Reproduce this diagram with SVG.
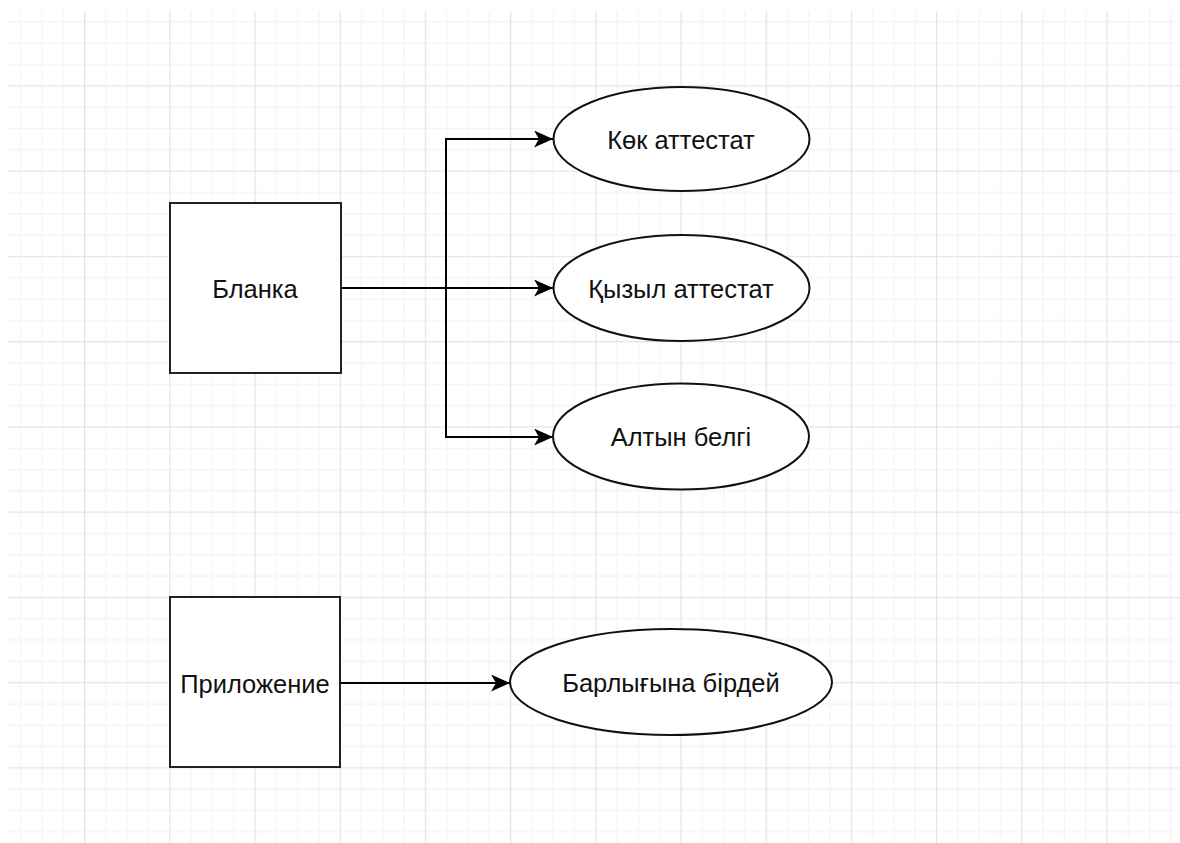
<svg xmlns="http://www.w3.org/2000/svg" width="1180" height="843" viewBox="0 0 1180 843">
<defs>
<pattern id="grid" patternUnits="userSpaceOnUse" x="-1.2" y="0.05" width="85.2" height="85.25">
<rect x="21.3" y="0" width="1.2" height="85.25" fill="#f3f3f3"/>
<rect x="42.6" y="0" width="1.2" height="85.25" fill="#f3f3f3"/>
<rect x="63.9" y="0" width="1.2" height="85.25" fill="#f3f3f3"/>
<rect x="0" y="21.3" width="85.2" height="1.2" fill="#f3f3f3"/>
<rect x="0" y="42.6" width="85.2" height="1.2" fill="#f3f3f3"/>
<rect x="0" y="63.9" width="85.2" height="1.2" fill="#f3f3f3"/>
<rect x="0" y="0" width="1.3" height="85.25" fill="#e4e4e4"/>
<rect x="0" y="0" width="85.2" height="1.3" fill="#e4e4e4"/>
</pattern>
<marker id="arr" viewBox="0 0 19 17" refX="19" refY="8.5" markerWidth="19" markerHeight="17" markerUnits="userSpaceOnUse" orient="auto">
<path d="M0,0 L19,8.5 L0,17 L5,8.5 Z" fill="#000"/>
</marker>
</defs>
<style>
.box{fill:#fff;stroke:#222;stroke-width:2}
.ell{fill:#fff;stroke:#111;stroke-width:2}
.lbl{font-family:"Liberation Sans",Arial,sans-serif;font-size:25.5px;fill:#111;text-anchor:middle}
.edge{fill:none;stroke:#000;stroke-width:2}
</style>
<rect x="0" y="0" width="1180" height="843" fill="#fff"/>
<rect x="7" y="11" width="1173" height="832" fill="url(#grid)"/>
<g id="connectors">
<path class="edge" d="M341,288 L446,288 L446,139 L553,139" marker-end="url(#arr)"/>
<path class="edge" d="M341,288 L553,288" marker-end="url(#arr)"/>
<path class="edge" d="M341,288 L446,288 L446,437 L553,437" marker-end="url(#arr)"/>
<path class="edge" d="M341,683 L510,683" marker-end="url(#arr)"/>
</g>
<g id="blanka">
<rect class="box" x="170" y="203" width="171" height="170"/>
<text class="lbl" x="255" y="297.5">Бланка</text>
</g>
<g id="kok">
<ellipse class="ell" cx="681.5" cy="139" rx="128" ry="52"/>
<text class="lbl" x="681" y="148.5">Көк аттестат</text>
</g>
<g id="kyzyl">
<ellipse class="ell" cx="681.5" cy="288" rx="128" ry="53"/>
<text class="lbl" x="681" y="297.5">Қызыл аттестат</text>
</g>
<g id="altyn">
<ellipse class="ell" cx="681" cy="436.5" rx="128" ry="53"/>
<text class="lbl" x="681" y="446">Алтын белгі</text>
</g>
<g id="prilozhenie">
<rect class="box" x="170" y="597" width="170" height="170"/>
<text class="lbl" x="255" y="692.5">Приложение</text>
</g>
<g id="barlygyna">
<ellipse class="ell" cx="671" cy="682" rx="161" ry="53"/>
<text class="lbl" x="671" y="691.5">Барлығына бірдей</text>
</g>
</svg>
